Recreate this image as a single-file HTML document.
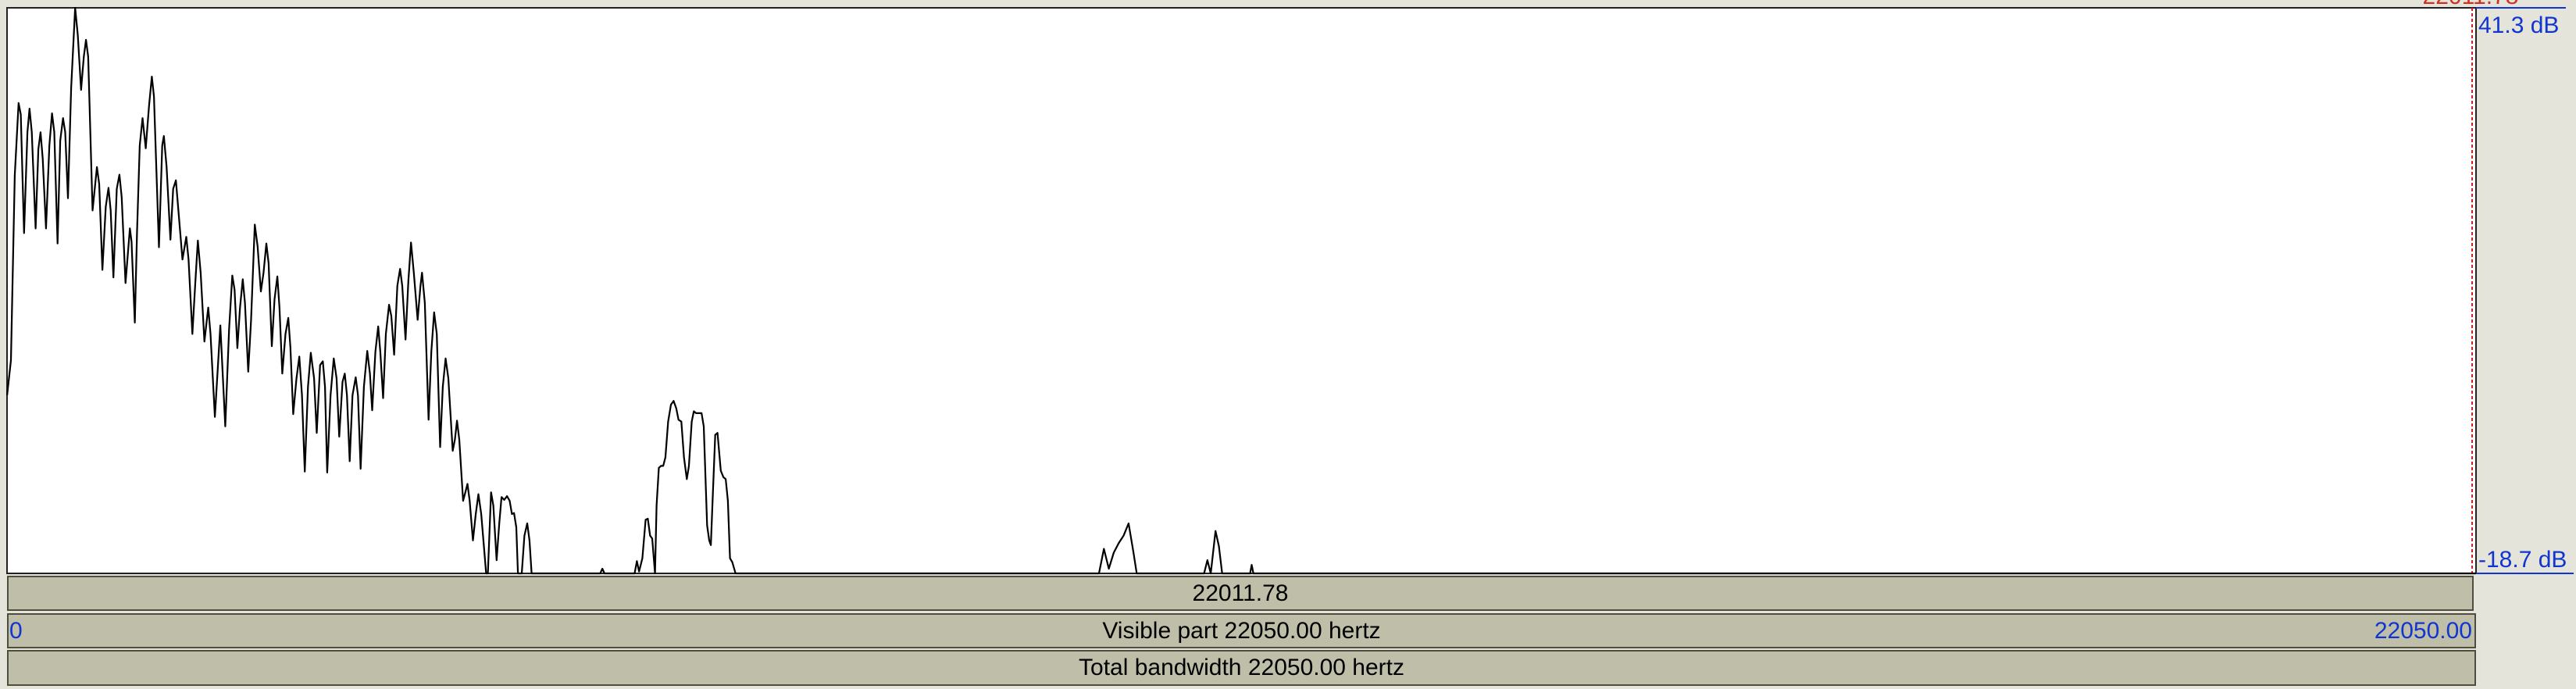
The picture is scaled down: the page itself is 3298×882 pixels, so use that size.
<!DOCTYPE html>
<html><head><meta charset="utf-8">
<style>
html,body{margin:0;padding:0;}
body{width:3298px;height:882px;background:#e4e4da;position:relative;overflow:hidden;font-family:"Liberation Sans",sans-serif;}
.bar{position:absolute;left:9px;background:#bfbea8;border:2px solid #4e4d3e;box-sizing:border-box;font-size:30px;color:#000;}
.bar span{position:absolute;top:50%;transform:translateY(-50%);white-space:nowrap;}
.c{left:50%;transform:translate(-50%,-50%)!important;}
.blue{color:#1035d0;}
</style></head>
<body>
<svg id="chart" width="3298" height="736" style="position:absolute;left:0;top:0">
  <rect x="9" y="10" width="3161" height="724" fill="#fff" stroke="#222" stroke-width="2"/>
  <line x1="3170" y1="10" x2="3285" y2="10" stroke="#1035d0" stroke-width="2"/>
  <line x1="3170" y1="734" x2="3295" y2="734" stroke="#1035d0" stroke-width="2"/>
  <line x1="3165" y1="10" x2="3165" y2="734" stroke="#d02020" stroke-width="2" stroke-dasharray="4,3"/>
  <text x="3163" y="5" fill="#d03020" font-size="30" text-anchor="middle" font-family="Liberation Sans">22011.78</text>
  <text x="3173" y="42" fill="#1035d0" font-size="30" font-family="Liberation Sans">41.3 dB</text>
  <text x="3173" y="726" fill="#1035d0" font-size="30" font-family="Liberation Sans">-18.7 dB</text>
  <polyline id="spec" fill="none" stroke="#000" stroke-width="2.2" stroke-linejoin="round"/>
</svg>
<div class="bar" style="top:737px;width:3158px;height:45px;"><span class="c">22011.78</span></div>
<div class="bar" style="top:785px;width:3161px;height:45px;">
  <span class="blue" style="left:1px">0</span>
  <span class="c">Visible part 22050.00 hertz</span>
  <span class="blue" style="right:3px">22050.00</span>
</div>
<div class="bar" style="top:832px;width:3161px;height:46px;"><span class="c">Total bandwidth 22050.00 hertz</span></div>
<script>
const freqs=[1,35,69,103,123,152,182,201,221,255,280,299,319,348,378,402,422,451,475,500,520,544,573,608,632,661,686,705,725,764,803,823,852,882,906,926,950,980,1004,1024,1058,1097,1112,1141,1161,1185,1210,1239,1268,1293,1312,1357,1386,1401,1425,1459,1484,1508,1528,1567,1601,1621,1655,1680,1704,1729,1763,1797,1817,1856,1905,1949,1983,2012,2032,2057,2081,2105,2125,2154,2179,2213,2238,2267,2291,2316,2336,2365,2389,2414,2433,2458,2487,2512,2531,2556,2585,2610,2634,2659,2688,2713,2742,2766,2796,2820,2840,2859,2889,2918,2943,2967,2996,3016,3036,3060,3085,3114,3134,3158,3187,3217,3241,3261,3290,3315,3334,3359,3383,3412,3432,3457,3486,3510,3530,3559,3584,3608,3633,3667,3692,3706,3731,3765,3789,3814,3838,3868,3892,3917,3941,3980,4000,4019,4039,4073,4093,4112,4132,4161,4186,4210,4235,4279,4294,4323,4343,4372,4396,4416,4440,4465,4489,4509,4528,4548,4563,4597,4621,4646,4666,4685,5297,5317,5336,5605,5625,5645,5674,5703,5723,5743,5762,5787,5801,5821,5840,5860,5880,5904,5929,5953,5977,5997,6022,6046,6071,6090,6115,6134,6154,6203,6222,6252,6271,6286,6301,6325,6345,6374,6398,6418,6438,6457,6477,6506,9752,9796,9840,9884,9928,9972,10016,10060,10089,10691,10720,10750,10793,10823,10852,11102,11116,11131,22050];
const levels=[0.2,3.9,23.5,31.2,30.0,17.4,28.1,30.6,28.1,17.9,26.3,28.1,25.3,17.9,26.7,30.1,28.1,16.3,27.2,29.6,28.1,21.1,32.8,41.3,38.4,32.6,36.1,37.9,36.1,19.8,24.4,22.6,13.5,20.2,22.2,19.8,12.7,22.1,23.6,21.2,12.1,17.9,16.5,7.9,17.4,26.7,29.6,26.4,30.9,34.0,31.9,15.9,26.7,27.7,24.4,16.7,22.1,23.0,20.2,14.6,17.0,14.6,6.7,11.8,16.6,13.2,5.9,9.5,6.7,-2.1,7.6,-3.1,7.2,12.9,11.4,5.2,9.5,12.5,10.0,2.7,8.1,18.3,16.0,11.2,13.2,16.3,14.2,5.4,10.4,12.8,9.5,2.5,6.7,8.4,5.3,-1.8,2.0,4.3,0.2,-7.9,1.1,4.7,2.0,-3.8,3.4,3.8,1.1,-8.0,0.2,4.1,2.0,-4.2,1.6,2.5,0.2,-6.8,0.2,2.1,0.2,-7.6,1.1,4.9,2.5,-1.4,4.8,7.5,4.8,-0.1,6.7,9.8,8.6,4.5,11.8,13.6,11.8,6.1,12.3,16.4,13.2,8.2,11.8,13.2,10.0,-2.4,4.8,9.0,6.7,-5.3,1.1,4.1,2.0,-5.7,-4.5,-2.5,-4.5,-11.0,-10.1,-9.2,-11.0,-15.2,-12.4,-10.3,-12.4,-18.7,-18.7,-10.1,-11.5,-17.3,-13.4,-10.6,-10.9,-10.5,-11.0,-12.4,-12.3,-13.8,-18.7,-18.7,-14.7,-13.4,-15.2,-18.7,-18.7,-18.2,-18.7,-18.7,-17.4,-18.5,-17.1,-13.0,-12.9,-14.7,-15.0,-18.7,-11.5,-7.5,-7.3,-7.3,-6.4,-2.6,-0.8,-0.4,-1.2,-2.4,-2.6,-6.4,-8.7,-7.3,-2.6,-1.5,-1.7,-1.7,-3.1,-13.6,-15.2,-15.7,-11.0,-4.0,-3.8,-7.8,-8.5,-8.7,-11.0,-17.1,-17.5,-18.7,-18.7,-16.1,-18.2,-16.5,-15.5,-14.7,-13.4,-16.5,-18.7,-18.7,-17.3,-18.7,-14.2,-15.8,-18.7,-18.7,-17.8,-18.7,-18.7];
const yTicks=["41.3 dB","-18.7 dB"];
const fMax=22050, dbMax=41.3, dbMin=-18.7;
const X0=9,X1=3170,Y0=10,Y1=734;
function xScale(f){return X0+(f/fMax)*(X1-X0);}
function yScale(d){const c=Math.max(dbMin,Math.min(dbMax,d));return Y0+(dbMax-c)/(dbMax-dbMin)*(Y1-Y0);}
const pts=freqs.map((f,i)=>xScale(f).toFixed(1)+","+yScale(levels[i]).toFixed(1)).join(" ");
document.getElementById('spec').setAttribute('points',pts);
</script>
</body></html>
